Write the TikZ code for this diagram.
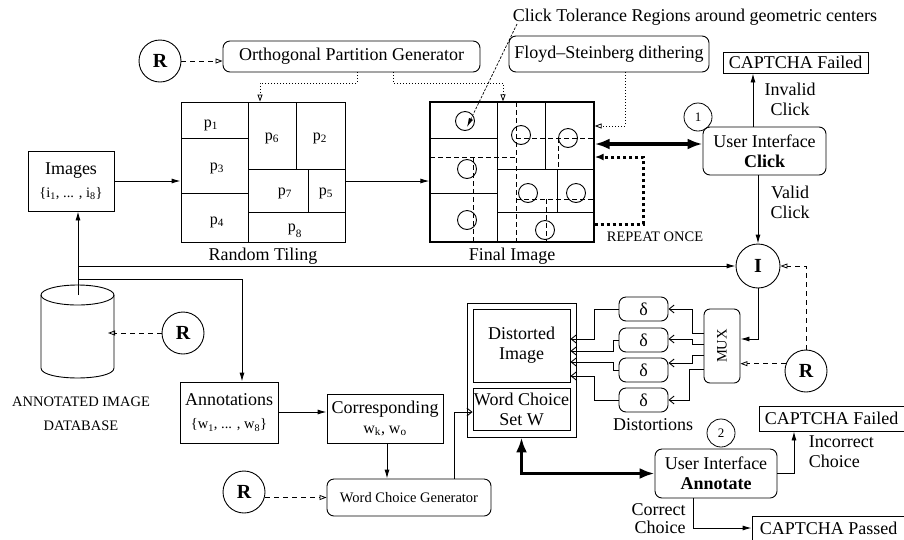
\documentclass[tikz,border=0pt]{standalone}
\usepackage{fontspec}
\setmainfont{Liberation Serif}
\usetikzlibrary{arrows.meta,calc}
\newcommand\fsA{\fontsize{18}{20}\selectfont}
\newcommand\fsB{\fontsize{14.5}{17}\selectfont}
\newcommand\fsC{\fontsize{13}{15}\selectfont}
\newcommand\fsD{\fontsize{16}{18}\selectfont}
\newcommand\tilegrid{%
  \draw (67,102) -- (67,242);
  \draw (0,138) -- (67,138) (0,193) -- (67,193);
  \draw (115,102) -- (115,169) (67,169) -- (164,169);
  \draw (127,169) -- (127,212) (67,212) -- (164,212);
}
\tikzset{
  box/.style={draw, line width=0.9pt, align=center, inner sep=0pt},
  rbox/.style={box, rounded corners=7pt},
  rc/.style={draw, circle, line width=0.9pt, minimum size=42pt, inner sep=0pt, font=\fontsize{20}{20}\selectfont\bfseries},
  numc/.style={draw, circle, line width=0.8pt, minimum size=28pt, inner sep=0pt, font=\fsC},
  dbox/.style={rbox, minimum width=49pt, minimum height=24pt},
  tc/.style={draw, circle, minimum size=19pt, inner sep=0pt, line width=0.9pt},
  farr/.style={-{Latex[length=9pt,width=5pt]}},
  rdash/.style={line width=0.8pt, dash pattern=on 5pt off 4pt, -{Triangle[open,length=7pt,width=5pt]}},
  dott/.style={line width=0.8pt, dash pattern=on 1pt off 2pt, -{Triangle[open,length=7pt,width=5pt]}},
  barb/.style={-{Straight Barb[length=5pt,width=8pt]}},
  thk/.style={line width=3.2pt, {Latex[length=15pt,width=11pt]}-{Latex[length=15pt,width=11pt]}},
  idash/.style={line width=0.8pt, dash pattern=on 5pt off 3pt},
}
\begin{document}
\begin{tikzpicture}[x=1pt,y=-1pt,font=\fsA,line width=0.9pt]
\useasboundingbox (0,0) rectangle (904,539);

% ---------- top row
\node[rc] (r1) at (160,61) {R};
\node[rbox, minimum width=257pt, minimum height=31pt] (opg) at (351.5,56.5) {Orthogonal Partition Generator};
\node[rbox, minimum width=200pt, minimum height=36pt] (fsd) at (609,54) {Floyd–Steinberg dithering};
\node (ctl) at (695,17) {Click Tolerance Regions around geometric centers};
\node[box, minimum width=145pt, minimum height=21pt] (cf1) at (795.5,62.5) {CAPTCHA Failed};
\node[numc] (n1) at (698,117) {1};
\node[rbox, minimum width=123pt, minimum height=48pt] (uic) at (764.5,151) {User Interface\\\textbf{Click}};
\node[box, minimum width=86pt, minimum height=60pt] (img) at (71,181) {Images\\[3pt]{\fsB\{i\textsubscript{1}, ... , i\textsubscript{8}\}}};

% ---------- random tiling
\node[draw, minimum width=164pt, minimum height=140pt, inner sep=0pt] (rt) at (263,172) {};
\begin{scope}[shift={(181,0)}]
  \tilegrid
  \begin{scope}[font=\fsD]
  \node at (30,125) {p\textsubscript{1}};
  \node at (91,138) {p\textsubscript{6}};
  \node at (139,138) {p\textsubscript{2}};
  \node at (36,168) {p\textsubscript{3}};
  \node at (104,193) {p\textsubscript{7}};
  \node at (145,193) {p\textsubscript{5}};
  \node at (36,222) {p\textsubscript{4}};
  \node at (114,231) {p\raisebox{-3pt}{\textsubscript{8}}};
  \end{scope}
\end{scope}
\node at (263,256) {Random Tiling};

% ---------- final image
\node[draw, line width=1.3pt, minimum width=164pt, minimum height=140pt, inner sep=0pt] (fi) at (512,172) {};
\begin{scope}[shift={(430,0)}]
  \tilegrid
  \draw[idash] (86,102) -- (86,242);
  \draw[idash] (0,157) -- (86,157);
  \draw[idash] (43,157) -- (43,242);
  \draw[idash] (86,138) -- (164,138);
  \draw[idash] (128,138) -- (128,169);
  \draw[idash] (86,199) -- (164,199);
  \draw[idash] (116,199) -- (116,242);
  \node[tc] (c1) at (35,121) {};
  \node[tc] (c2) at (37,169) {};
  \node[tc] (c3) at (37,220) {};
  \node[tc] (c4) at (91,135) {};
  \node[tc] (c5) at (138,138) {};
  \node[tc] (c6) at (98,193) {};
  \node[tc] (c7) at (146,193) {};
  \node[tc] (c8) at (115,230) {};
\end{scope}
\node at (512,256) {Final Image};
\node[font=\fsB] (rep) at (655,237) {REPEAT ONCE};

% ---------- database
\draw (41,295) -- (41,368) .. controls (41,381.3) and (114,381.3) .. (114,368) -- (114,295);
\draw (77.5,295) ellipse [x radius=36.5, y radius=10];
\coordinate (dbtop) at (78,295);
\coordinate (dbin) at (108,333);
\coordinate (j1) at (78,266);
\coordinate (j2) at (78,279);
\node[rc] (r2) at (183,333) {R};
\node[font=\fsB, align=center] (dblab) at (81,414) {ANNOTATED IMAGE\\[7pt]DATABASE};

% ---------- annotation path
\node[box, minimum width=98pt, minimum height=61pt] (ann) at (229,412.5) {Annotations\\[3pt]{\fsB\{w\textsubscript{1}, ... , w\textsubscript{8}\}}};
\node[box, minimum width=116pt, minimum height=49pt] (corr) at (385,418.5) {Corresponding\\{\fsD w\textsubscript{k}, w\textsubscript{o}}};
\node[rbox, minimum width=164pt, minimum height=37pt, font=\fsB] (wcg) at (409,497.5) {Word Choice Generator};
\node[rc] (r3) at (244,492) {R};

\node[box, minimum width=109pt, minimum height=134pt] (outer) at (521.5,370) {};
\node[box, minimum width=97pt, minimum height=73pt] (di) at (521.5,345.5) {Distorted\\Image};
\node[box, minimum width=97pt, minimum height=42pt] (wcs) at (521.5,409) {Word Choice\\Set W};

% ---------- right column
\node[rc, minimum size=44pt] (I) at (758,266) {I};
\node[rbox, minimum width=36pt, minimum height=74pt, rounded corners=6pt] (mux) at (722,346) {};
\node[rotate=90, font=\fsB] (muxl) at (722,346) {MUX};
\node[rc] (r4) at (806,371) {R};
\node[dbox] (d1) at (643.5,309) {δ};
\node[dbox] (d2) at (643.5,340) {δ};
\node[dbox] (d3) at (643.5,370) {δ};
\node[dbox] (d4) at (643.5,400) {δ};
\node (distl) at (653,425) {Distortions};
\node[numc] (n2) at (721,433) {2};
\node[rbox, minimum width=122pt, minimum height=49pt] (uia) at (716,473.5) {User Interface\\\textbf{Annotate}};
\node[box, minimum width=145pt, minimum height=25pt] (cf2) at (831.5,418.5) {CAPTCHA Failed};
\node[box, minimum width=153pt, minimum height=24pt] (cp) at (828.5,528) {CAPTCHA Passed};

% ---------- labels
\node[align=center] (l1) at (790,99) {Invalid\\Click};
\node[align=center] (l2) at (790,202) {Valid\\Click};
\node[align=left, anchor=west] (l3) at (805,452) {Incorrect\\Choice};
\node[align=right, anchor=east, inner sep=1pt, font=\fontsize{18}{18}\selectfont] (l4) at (687,519) {Correct\\Choice};

% ---------- connectors
\draw[rdash] (r1.east) -- (r1.east -| opg.west);
\draw[dott] (opg.south -| 357,0) -- ++(0,11) -| (rt.north -| 260,0);
\draw[dott] (opg.south -| 393,0) -- ++(0,11) -| (fi.north -| 503,0);
\draw[dott] (fsd.south -| 625,0) |- (fi.east |- 0,126);
\coordinate (ctla) at (517,24);
\coordinate (ctlb) at (467,127);
\draw[line width=0.7pt, dash pattern=on 2.5pt off 1.5pt, -{Latex[length=9pt,width=4.5pt]}] (ctla) -- (ctlb);

\draw[farr] (img.east) -- (img.east -| rt.west);
\draw[farr] (rt.east |- img.east) -- (img.east -| fi.west);
\draw[thk] (fi.east |- 0,144) -- (uic.west |- 0,144);
\draw[line width=3pt, dash pattern=on 3pt off 3pt, -{Latex[length=9pt,width=7pt]}] (fi.east |- 0,224) -- (643,224) -- (643,157) -- (fi.east |- 0,157);
\draw[farr] (uic.north -| 753,0) -- (cf1.south -| 753,0);
\draw[farr] (uic.south -| 758,0) -- (I.north);

\draw[farr] (dbtop) -- (dbtop |- img.south);
\draw[farr] (j1) -- (I.west);
\draw[farr] (j2) -| (ann.north -| 242,0);
\draw[rdash] (r2.west) -- (dbin);

\draw[farr] (ann.east |- 0,412) -- (corr.west |- 0,412);
\draw[farr] (corr.south -| 387,0) -- (wcg.north -| 387,0);
\draw[barb] (wcg.north -| 454,0) |- (wcs.west |- 0,412);
\draw[rdash] (r3.east |- wcg.west) -- (wcg.west);

\draw[farr] (I.south) |- (mux.east |- 0,339);
\draw[rdash] (r4.north) |- (I.east);
\draw[rdash] (r4.160) -- (r4.160 -| mux.east);

\draw[barb] (mux.west |- 0,333) -- (692,333) |- (d1.east);
\draw[barb] (mux.west |- 0,344) -- (692,344) |- (d2.east |- 0,339);
\draw[barb] (mux.west |- 0,355) -- (692,355) |- (d3.east |- 0,363);
\draw[barb] (mux.west |- 0,369) -- (689,369) |- (d4.east);

\draw[barb] (d1.west) -| (594,339) -- (di.east |- 0,339);
\draw[barb] (d2.west) -| (613,351) -- (di.east |- 0,351);
\draw[barb] (d3.west) -| (613,362) -- (di.east |- 0,362);
\draw[barb] (d4.west) -| (594,376) -- (di.east |- 0,376);

\draw[thk] (outer.south) |- (uia.west);
\draw[farr] (uia.east) -| (cf2.south -| 794,0);
\draw[farr] (uia.south -| 693,0) |- (cp.west);
\end{tikzpicture}
\end{document}
